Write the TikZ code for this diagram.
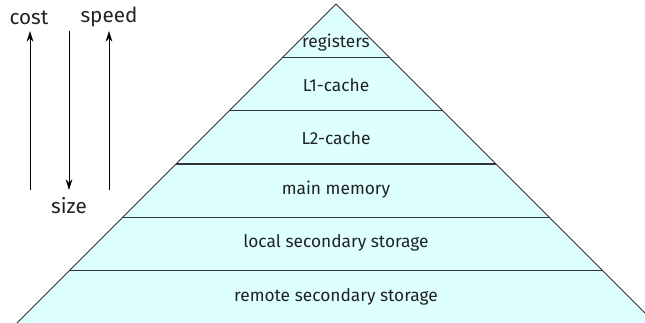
\documentclass[tikz,border=0pt]{standalone}
\usepackage{fontspec}
\setmainfont{Fira Sans}
\usetikzlibrary{arrows.meta}
\definecolor{pyrfill}{HTML}{DDFFFF}
\definecolor{txt}{HTML}{222222}
\definecolor{edge}{HTML}{333333}
\begin{document}
\begin{tikzpicture}[x=0.75pt,y=-0.75pt,
  band/.style={font=\fontsize{13}{15}\selectfont, text=txt, inner sep=0pt},
  lbl/.style={font=\fontsize{15.5}{18}\selectfont, text=txt, inner sep=0pt},
  arr/.style={draw=black, line width=0.6pt, -{Stealth[length=8pt,width=5pt]}},
  sep/.style={draw=edge, line width=0.8pt}]
\useasboundingbox (0,0) rectangle (645,323);
\begin{scope}
\clip (0,0) rectangle (645,323);
\coordinate (apex) at (336,4);
\coordinate (bl) at (16,324);
\coordinate (br) at (656,324);
\fill[pyrfill] (apex) -- (bl) -- (br) -- cycle;
\foreach \i in {1,...,5} {
  \pgfmathsetmacro{\yy}{4+53.333*\i}
  \pgfmathsetmacro{\xl}{336-(\yy-4)}
  \pgfmathsetmacro{\xr}{336+(\yy-4)}
  \coordinate (l\i) at (\xl,\yy);
  \coordinate (r\i) at (\xr,\yy);
  \draw[sep] (l\i) -- (r\i);
}
\draw[edge, line width=0.6pt] (bl) -- (apex) -- (br);
\end{scope}
\node[band] (reg) at (336,43) {registers};
\node[band] (l1) at (336,85) {L1-cache};
\node[band] (l2) at (336,138) {L2-cache};
\node[band] (mm) at (336,190) {main memory};
\node[band] (lss) at (336,243) {local secondary storage};
\node[band] (rss) at (336,297) {remote secondary storage};
\node[lbl] (cost) at (29,18) {cost};
\node[lbl] (speed) at (109,17) {speed};
\node[lbl] (size) at (69,206) {size};
\coordinate (c0) at (30,190);
\coordinate (c1) at (30,31);
\coordinate (s0) at (69,31);
\coordinate (s1) at (69,190);
\coordinate (p0) at (109,190);
\coordinate (p1) at (109,31);
\draw[arr] (c0) -- (c1);
\draw[arr] (s0) -- (s1);
\draw[arr] (p0) -- (p1);
\end{tikzpicture}
\end{document}
